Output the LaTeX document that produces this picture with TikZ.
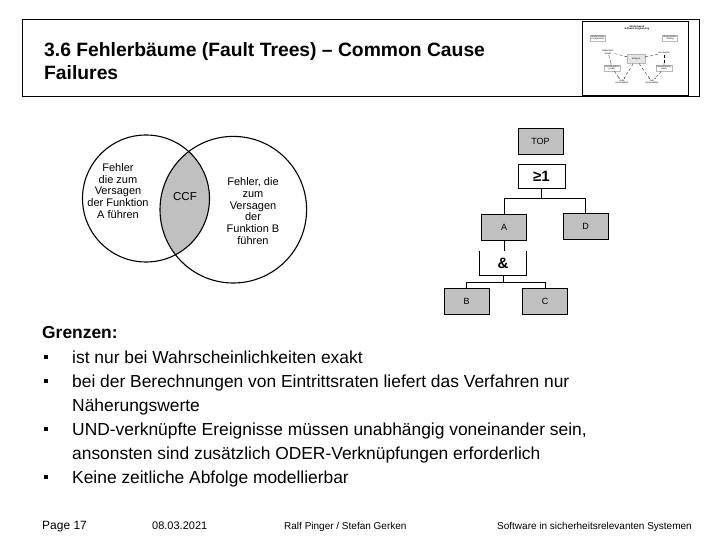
\documentclass[tikz,border=0pt]{standalone}
\usepackage{fontspec}
\setmainfont{Liberation Sans}
\usetikzlibrary{arrows.meta, positioning, calc}

\definecolor{boxgray}{RGB}{192,192,192}

\begin{document}
\begin{tikzpicture}[
    x=1pt, y=-1pt,
    event/.style={rectangle, draw, fill=boxgray, minimum width=45pt, minimum height=26pt, inner sep=0pt, font=\fontsize{9}{10}\selectfont},
    gatebox/.style={rectangle, minimum width=47pt, minimum height=24pt, inner sep=0pt},
    venntext/.style={align=center, inner sep=0pt, font=\fontsize{11}{11.8}\selectfont},
    titleline/.style={anchor=base west, inner sep=0pt, font=\bfseries\fontsize{19.3}{23}\selectfont},
    bodyline/.style={anchor=base west, inner sep=0pt, font=\fontsize{17.4}{24}\selectfont},
    bulletsq/.style={fill, minimum size=4.5pt, inner sep=0pt},
    footer/.style={anchor=base west, inner sep=0pt, font=\fontsize{10}{12}\selectfont},
    thumb/.style={draw=gray!55, fill=white, inner sep=0.7pt, align=center, font=\fontsize{2.3}{2.6}\selectfont},
    thumbarrow/.style={-{Stealth[length=1.2pt]}, densely dashed, line width=0.25pt}
]

\useasboundingbox (0,0) rectangle (720,540);
\fill[white] (0,0) rectangle (720,540);

% Title
\node[draw, line width=1pt, minimum width=677pt, minimum height=77pt, inner sep=0pt] (titlebox) at (360.5,58.5) {};
\node[titleline] (title1) at (44,57) {3.6 Fehlerbäume (Fault Trees) – Common Cause};
\node[titleline] (title2) at (44,80) {Failures};

% Thumbnail
\node[draw, fill=white, line width=0.7pt, minimum width=106pt, minimum height=74pt, inner sep=0pt] (thumbframe) at (635,58) {};
\node[font=\bfseries\fontsize{2.4}{2.7}\selectfont, align=center, inner sep=0pt] (thtitle) at (637,28) {Model-based\\Software Engineering};
\node[thumb] (thcomp) at (598,38) {Model-based\\Components};
\node[thumb] (thtest) at (670,38) {Model-based\\Testing};
\node[thumb, draw=none] (thapp) at (608,52) {Application\\model};
\node[thumb, fill=gray!20, minimum width=18pt, minimum height=9pt] (thana) at (636,59) {analysis};
\node[thumb, draw=none] (thtm) at (664,53) {test model};
\node[thumb] (thtrl) at (612,68) {transformation\\(code)};
\node[thumb] (thtrr) at (664,68) {transformation\\(test)};
\node[thumb, draw=none] (thcode) at (622,82) {code\\(executable)};
\node[thumb, draw=none] (thexec) at (652,82) {test\\(executable)};
\draw[thumbarrow] (thapp) -- (thana);
\draw[thumbarrow] (thtm) -- (thana);
\draw[thumbarrow] (thapp) -- (thtrl);
\draw[thumbarrow] (thtm) -- (thtrr);
\draw[thumbarrow] (thtrl) -- (thcode);
\draw[thumbarrow] (thtrr) -- (thexec);
\draw[thumbarrow] (thana) -- (thcode);
\draw[thumbarrow] (thana) -- (thexec);

% Venn diagram
\coordinate (ca) at (146,198.5);
\coordinate (cb) at (233.3,209.7);
\begin{scope}
  \clip (ca) circle[radius=63.5pt];
  \fill[boxgray] (cb) circle[radius=73.3pt];
\end{scope}
\draw[line width=1.1pt] (ca) circle[radius=63.5pt];
\draw[line width=1.1pt] (cb) circle[radius=73.3pt];
\node[venntext] (texta) at (118,191) {Fehler\\die zum\\Versagen\\der Funktion\\A führen};
\node[venntext] (textb) at (253,211) {Fehler, die\\zum\\Versagen\\der\\Funktion B\\führen};
\node[font=\fontsize{11.5}{12}\selectfont] (ccf) at (185,197) {CCF};

% Fault tree
\node[event] (top) at (540.5,141) {TOP};
\node[gatebox, draw, fill=white, font=\bfseries\fontsize{15}{15}\selectfont] (orgate) at (541.5,176) {≥1};
\node[event] (a) at (504,227) {A};
\node[event] (d) at (585.5,226) {D};
\node[gatebox, font=\bfseries\fontsize{15}{15}\selectfont] (andgate) at (503,263.5) {\&};
\node[event] (b) at (466.5,301) {B};
\node[event] (c) at (545,301) {C};
\coordinate (orjoin) at (541.5,198);
\coordinate (andjoin) at (503,282);
\draw[line width=0.8pt] (andgate.north west) -- (andgate.south west) -- (andgate.south east) -- (andgate.north east);
\draw[line width=0.8pt] (orgate.south) -- (orjoin);
\draw[line width=0.8pt] (orjoin) -| (a.north);
\draw[line width=0.8pt] (orjoin) -| (d.north);
\draw[line width=0.8pt] (a.south) -- (a.south |- andgate.north);
\draw[line width=0.8pt] (andgate.south) -- (andjoin);
\draw[line width=0.8pt] (andjoin) -| (b.north);
\draw[line width=0.8pt] (andjoin) -| (c.north);

% Text
\node[bodyline, font=\bfseries\fontsize{17.4}{24}\selectfont] (grenzen) at (42,338) {Grenzen:};
\foreach \y/\name in {363/b1, 387/b2, 435/b3, 483/b4}
  \node[bulletsq] (\name) at (46,\y-6) {};
\node[bodyline] (l1) at (72,363) {ist nur bei Wahrscheinlichkeiten exakt};
\node[bodyline] (l2) at (72,387) {bei der Berechnungen von Eintrittsraten liefert das Verfahren nur};
\node[bodyline] (l2b) at (72,411) {Näherungswerte};
\node[bodyline] (l3) at (72,435) {UND-verknüpfte Ereignisse müssen unabhängig voneinander sein,};
\node[bodyline] (l3b) at (72,459) {ansonsten sind zusätzlich ODER-Verknüpfungen erforderlich};
\node[bodyline] (l4) at (72,483) {Keine zeitliche Abfolge modellierbar};

% Footer
\node[footer, font=\fontsize{12}{14}\selectfont] (page) at (42,529) {Page 17};
\node[footer, font=\fontsize{11}{13}\selectfont] (date) at (152,529) {08.03.2021};
\node[footer] (authors) at (284,529) {Ralf Pinger / Stefan Gerken};
\node[footer] (course) at (497,529) {Software in sicherheitsrelevanten Systemen};

\end{tikzpicture}
\end{document}
